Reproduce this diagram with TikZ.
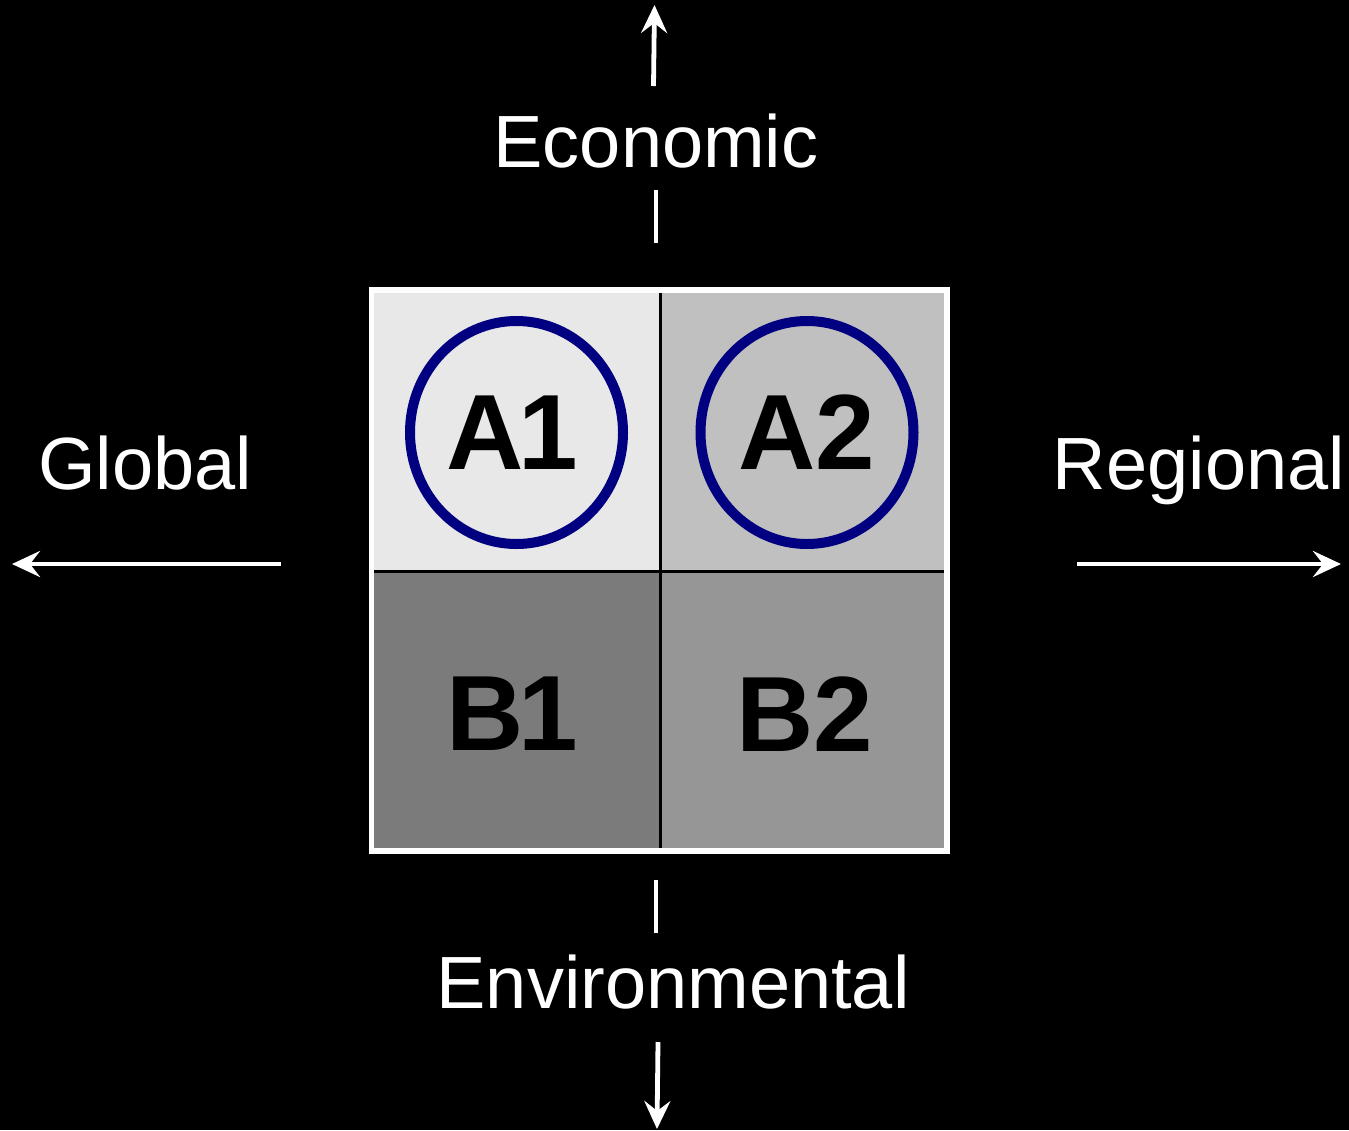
\documentclass[tikz,border=0pt]{standalone}
\usepackage{fontspec}
\setmainfont{Liberation Sans}
\usetikzlibrary{arrows.meta,shapes.geometric}
\definecolor{cellA}{HTML}{E8E8E8}
\definecolor{cellB}{HTML}{C0C0C0}
\definecolor{cellC}{HTML}{7B7B7B}
\definecolor{cellD}{HTML}{969696}
\definecolor{ringblue}{HTML}{000080}
\tikzset{
  axis/.style={draw=white, line width=2.4pt, -{Stealth[length=14pt,width=13pt,inset=5pt]}},
  tick/.style={draw=white, line width=2.4pt},
  axislabel/.style={text=white, font=\fontsize{37}{44}\selectfont, inner sep=0pt, anchor=base},
  ring/.style={ellipse, draw=ringblue, line width=5pt, inner sep=0pt, outer sep=0pt,
    minimum width=106.5pt, minimum height=111.5pt},
  celllabel/.style={text=black, font=\fontsize{53.5}{60}\selectfont\bfseries, inner sep=0pt},
}
\begin{document}
\begin{tikzpicture}[x=0.5pt,y=-0.5pt]
  % canvas
  \fill[black] (0,0) rectangle (1349,1130);
  \useasboundingbox (0,0) rectangle (1349,1130);

  % the four quadrants
  \fill[cellA] (373,292) rectangle (660,571);
  \fill[cellB] (660,292) rectangle (945,571);
  \fill[cellC] (373,571) rectangle (660,849);
  \fill[cellD] (660,571) rectangle (945,849);
  \draw[black, line width=1.5pt] (660,292) -- (660,849);
  \draw[black, line width=1.5pt] (373,571) -- (945,571);
  \draw[white, line width=2.8pt] (371.5,290) rectangle (947,851);

  % quadrant labels
  \node[ring, celllabel] (A1) at (516.5,432.5) {\hspace*{-4pt}A\kern-2.5pt 1};
  \node[ring, celllabel] (A2) at (807,432.5) {A2};
  \node[celllabel] (B1) at (512,714) {B\kern-2.5pt 1};
  \node[celllabel] (B2) at (805,714) {B2};

  % axis labels
  \node[axislabel] (econ) at (656,167) {Economic};
  \node[axislabel] (env) at (673,1008) {Environmental};
  \node[axislabel] (glob) at (145,489) {Global};
  \node[axislabel] (reg) at (1199,489) {Regional};

  % axis ends
  \coordinate (econTail) at (653.5,86);
  \coordinate (econTip) at (654.5,5);
  \coordinate (envTail) at (658,1042);
  \coordinate (envTip) at (657,1129);
  \coordinate (globTail) at (281,564);
  \coordinate (globTip) at (12,564);
  \coordinate (regTail) at (1077,564);
  \coordinate (regTip) at (1341,564);
  \coordinate (econTickA) at (656,190);
  \coordinate (econTickB) at (656,243);
  \coordinate (envTickA) at (656,880);
  \coordinate (envTickB) at (656,933);

  \draw[axis] (econTail) -- (econTip);
  \draw[axis] (envTail) -- (envTip);
  \draw[axis] (globTail) -- (globTip);
  \draw[axis] (regTail) -- (regTip);
  \draw[tick] (econTickA) -- (econTickB);
  \draw[tick] (envTickA) -- (envTickB);
\end{tikzpicture}
\end{document}
